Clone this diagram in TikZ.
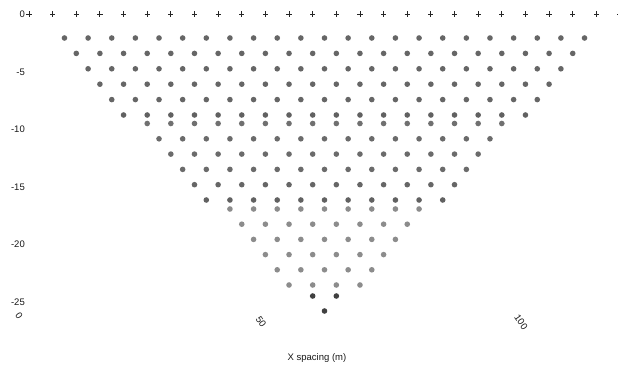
\documentclass[tikz,border=0pt]{standalone}
\usepackage{fontspec}
\setmainfont{Liberation Sans}
\begin{document}
\begin{tikzpicture}[x=1pt,y=-1pt,
  lbl/.style={font=\fontsize{9.5}{11}\selectfont, text=black!90, inner sep=0pt},
  xlbl/.style={lbl, rotate=-55},
  elec/.style={draw=black!85, line width=0.9pt}]
\useasboundingbox (0,0) rectangle (618,366);
\fill[white] (0,0) rectangle (618,366);
\def\dd{23.64}
% electrodes
\foreach \i in {0,...,25} {
  \draw[elec] ({29+\i*\dd-2.6},14) -- ++(5.2,0) ({29+\i*\dd},11.4) -- ++(0,5.2);
}
% data points
\foreach \k/\y/\c in {1/38/60,2/53.4/60,3/68.8/60,4/84.2/60,5/99.6/60,6/115/62,
                      8/123.5/56,9/138.8/58,10/154.1/58,11/169.4/58,12/184.7/60,13/200/62,
                      15/209/45,16/224.2/45,17/239.4/45,18/254.6/45,19/269.8/45,20/285/45,
                      22/296/75,23/311/75} {
  \pgfmathtruncatemacro\n{23-\k}
  \foreach \j in {0,...,\n} {
    \fill[black!\c] ({29+(\k+2)/2*\dd+\j*\dd},\y) circle (2.8);
  }
}
% y axis labels
\node[lbl, anchor=east] (y0) at (25,14) {0};
\node[lbl, anchor=east] (y5) at (25,72) {-5};
\node[lbl, anchor=east] (y10) at (25,129.5) {-10};
\node[lbl, anchor=east] (y15) at (25,187) {-15};
\node[lbl, anchor=east] (y20) at (25,244.5) {-20};
\node[lbl, anchor=east] (y25) at (25,302) {-25};
% x axis labels
\node[xlbl] (x0) at (19,316) {0};
\node[xlbl] (x50) at (261,322) {50};
\node[xlbl] (x100) at (521,322) {100};
\node[lbl] (xt) at (317,358) {X spacing (m)};
\end{tikzpicture}
\end{document}
